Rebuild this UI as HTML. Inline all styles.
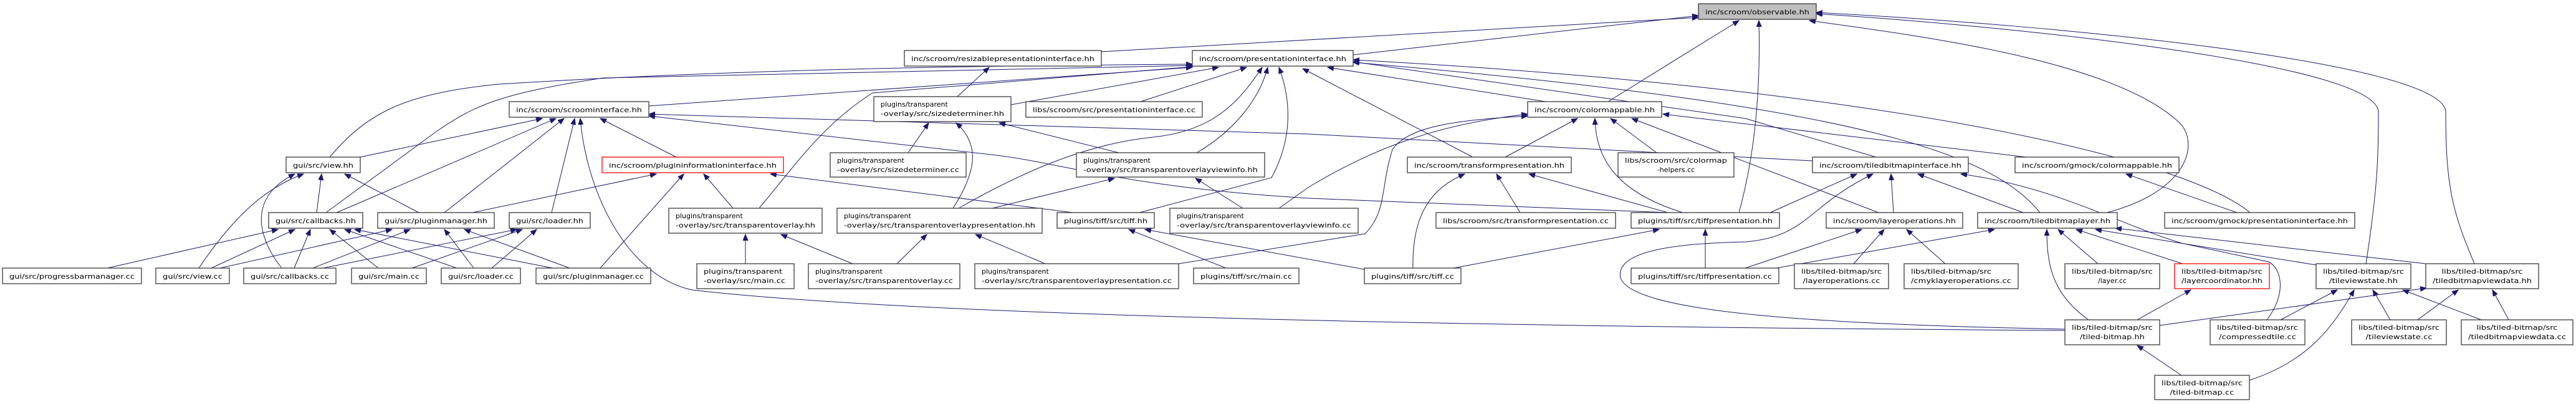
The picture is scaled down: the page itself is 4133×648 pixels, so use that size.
<!DOCTYPE html>
<html><head><meta charset="utf-8"><style>
html,body{margin:0;padding:0;background:#fff;}
svg{display:block;}
rect{fill:#fff;stroke:#3a3a3a;stroke-width:1.3;}
text{font-family:"DejaVu Sans","Liberation Sans",sans-serif;font-size:11px;fill:#000;}
.e{fill:none;stroke:#191970;stroke-width:1;marker-end:url(#a);}
</style></head><body>
<svg width="4133" height="648" viewBox="0 0 4133 648" xmlns="http://www.w3.org/2000/svg">
<defs><marker id="a" markerUnits="userSpaceOnUse" markerWidth="11" markerHeight="9" refX="10" refY="4" orient="auto"><path d="M0,0 L10,4 L0,8 z" fill="#191970" stroke="#191970"/></marker></defs>
<g>
<!-- edges to observable -->
<path class="e" d="M2171,88 L2725,25"/>
<path class="e" d="M1767,83 L2725,28"/>
<path class="e" d="M2580,163 L2790,33"/>
<path class="e" d="M2790,341 C2815,250 2825,150 2822,33"/>
<path class="e" d="M3380,341 C3500,310 3530,240 3500,200 C3400,100 3100,60 2903,33"/>
<path class="e" d="M3796,423 C3815,300 3816,250 3816,180 C3816,100 3200,40 2914,22"/>
<path class="e" d="M3970,423 C3935,340 3924,300 3924,180 C3924,100 3300,40 2914,20"/>
<!-- to presentationinterface -->
<path class="e" d="M3273,341 C3200,250 3000,170 2171,100"/>
<path class="e" d="M1622,168 L1955,108"/>
<path class="e" d="M1830,163 L2000,108"/>
<path class="e" d="M1041,170 L1913,108"/>
<path class="e" d="M529,252 C590,180 650,150 800,135 C1200,110 1600,105 1913,103"/>
<path class="e" d="M523,341 L700,211 C760,170 800,150 968,125 L1913,105"/>
<path class="e" d="M1218,334 C1280,260 1320,200 1400,149 L1913,107"/>
<path class="e" d="M1538,334 C1650,270 1750,230 1850,220 C1950,210 1990,160 2025,108"/>
<path class="e" d="M1920,245 C1980,210 2020,160 2034,108"/>
<path class="e" d="M1828,341 L2040,285 C2070,230 2075,170 2052,108"/>
<path class="e" d="M2480,163 L2130,108"/>
<path class="e" d="M2363,252 L2090,110"/>
<path class="e" d="M3010,252 L2800,190 L2171,99"/>
<path class="e" d="M3610,341 C3500,250 3000,140 2171,96"/>
<!-- to scroominterface -->
<path class="e" d="M578,252 L870,190"/>
<path class="e" d="M540,341 L892,190"/>
<path class="e" d="M713,341 L905,190"/>
<path class="e" d="M885,341 L922,190"/>
<path class="e" d="M3313,530 C2500,525 1500,510 1110,465 C1000,440 940,300 931,190"/>
<path class="e" d="M1085,252 L963,190"/>
<path class="e" d="M2908,258 L2100,215 L1041,183"/>
<path class="e" d="M2676,341 L2100,318 C1800,300 1700,260 1590,248 L1041,186"/>
<!-- to plugininformationinterface -->
<path class="e" d="M758,341 L1053,279"/>
<path class="e" d="M963,430 L1097,279"/>
<path class="e" d="M1176,334 L1129,279"/>
<path class="e" d="M1721,341 L1236,279"/>
<!-- to view.hh -->
<path class="e" d="M508,341 L516,279"/>
<path class="e" d="M319,430 C380,340 430,300 487,279"/>
<path class="e" d="M452,430 C420,390 390,320 473,279"/>
<path class="e" d="M672,341 L553,279"/>
<!-- to callbacks.hh -->
<path class="e" d="M172,430 L446,368"/>
<path class="e" d="M339,430 L473,368"/>
<path class="e" d="M472,430 L498,368"/>
<path class="e" d="M607,430 L529,368"/>
<path class="e" d="M733,430 L553,368"/>
<path class="e" d="M887,430 L569,368"/>
<!-- to pluginmanager.hh -->
<path class="e" d="M353,430 L629,368"/>
<path class="e" d="M502,430 L658,368"/>
<path class="e" d="M760,430 L713,368"/>
<path class="e" d="M914,430 L745,368"/>
<!-- to loader.hh -->
<path class="e" d="M518,430 L829,368"/>
<path class="e" d="M661,430 L838,368"/>
<path class="e" d="M789,430 L861,368"/>
<!-- transparent overlay -->
<path class="e" d="M1196,423 L1196,376"/>
<path class="e" d="M1368,423 L1253,376"/>
<path class="e" d="M1457,245 L1490,197"/>
<path class="e" d="M1529,334 C1570,270 1570,230 1534,197"/>
<path class="e" d="M1795,245 L1603,197"/>
<path class="e" d="M1536,155 L1587,108"/>
<path class="e" d="M1439,423 L1487,376"/>
<path class="e" d="M1677,423 L1565,376"/>
<path class="e" d="M1592,334 L1788,286"/>
<path class="e" d="M1994,334 L1918,286"/>
<!-- tiff -->
<path class="e" d="M1967,430 L1811,368"/>
<path class="e" d="M2189,432 L1837,368"/>
<!-- to colormappable -->
<path class="e" d="M1891,423 L2190,375 C2225,340 2215,300 2234,240 C2260,200 2350,192 2451,186"/>
<path class="e" d="M2052,334 L2100,300 C2200,240 2300,200 2451,183"/>
<path class="e" d="M2415,252 L2531,190"/>
<path class="e" d="M2700,341 C2600,310 2560,260 2559,190"/>
<path class="e" d="M2658,245 L2584,190"/>
<path class="e" d="M3014,341 L2618,190"/>
<path class="e" d="M3251,252 L2668,183"/>
<!-- to transform.hh -->
<path class="e" d="M2267,430 C2265,340 2300,300 2350,279"/>
<path class="e" d="M2439,341 L2401,279"/>
<path class="e" d="M2676,341 L2453,279"/>
<!-- to tiffpresentation.hh -->
<path class="e" d="M2332,430 L2662,368"/>
<path class="e" d="M2736,430 L2736,368"/>
<!-- to tbi -->
<path class="e" d="M2840,341 L2979,279"/>
<path class="e" d="M3313,528 C2900,520 2620,500 2600,446 C2590,400 2700,390 2800,388 C2900,380 2900,330 3005,279"/>
<path class="e" d="M3038,341 L3034,279"/>
<path class="e" d="M3246,341 L3077,279"/>
<path class="e" d="M3637,513 C3670,470 3660,430 3640,420 L3500,390 C3400,360 3300,300 3146,279"/>
<!-- to layerops.hh -->
<path class="e" d="M2800,430 L2987,368"/>
<path class="e" d="M2974,423 L3023,368"/>
<path class="e" d="M3121,423 L3059,368"/>
<!-- to tbl -->
<path class="e" d="M2850,430 L3200,368"/>
<path class="e" d="M3366,423 L3302,368"/>
<path class="e" d="M3351,513 C3290,470 3284,420 3284,368"/>
<path class="e" d="M3502,423 L3331,368"/>
<path class="e" d="M3716,425 L3362,368"/>
<path class="e" d="M3892,423 L3394,366"/>
<!-- misc -->
<path class="e" d="M3589,341 L3411,279"/>
<path class="e" d="M3429,513 L3515,465"/>
<path class="e" d="M3500,602 L3429,554"/>
<path class="e" d="M3659,513 L3750,465"/>
<path class="e" d="M3835,513 L3807,465"/>
<path class="e" d="M3981,513 L3855,465"/>
<path class="e" d="M3609,610 C3700,580 3740,530 3777,465"/>
<path class="e" d="M3465,522 L3893,462"/>
<path class="e" d="M3879,513 L3944,465"/>
<path class="e" d="M4025,513 L3999,465"/>
</g>
<g>
<rect x="2725" y="6" width="189" height="25" style="fill:#bfbfbf"/><text x="2819.5" y="23" text-anchor="middle" textLength="167" lengthAdjust="spacingAndGlyphs">inc/scroom/observable.hh</text>
<rect x="1451" y="81" width="316" height="25"/><text x="1609" y="98" text-anchor="middle" textLength="294" lengthAdjust="spacingAndGlyphs">inc/scroom/resizablepresentationinterface.hh</text>
<rect x="1913" y="81" width="258" height="25"/><text x="2042" y="98" text-anchor="middle" textLength="236" lengthAdjust="spacingAndGlyphs">inc/scroom/presentationinterface.hh</text>
<rect x="817" y="163" width="224" height="25"/><text x="929" y="180" text-anchor="middle" textLength="202" lengthAdjust="spacingAndGlyphs">inc/scroom/scroominterface.hh</text>
<rect x="1402" y="155" width="220" height="40"/><text x="1413" y="171">plugins/transparent</text><text x="1413" y="186" textLength="198" lengthAdjust="spacingAndGlyphs">-overlay/src/sizedeterminer.hh</text>
<rect x="1646" y="163" width="283" height="25"/><text x="1787.5" y="180" text-anchor="middle" textLength="261" lengthAdjust="spacingAndGlyphs">libs/scroom/src/presentationinterface.cc</text>
<rect x="2451" y="163" width="215" height="25"/><text x="2558.5" y="180" text-anchor="middle" textLength="193" lengthAdjust="spacingAndGlyphs">inc/scroom/colormappable.hh</text>
<rect x="459" y="252" width="119" height="25"/><text x="518.5" y="269" text-anchor="middle" textLength="97" lengthAdjust="spacingAndGlyphs">gui/src/view.hh</text>
<rect x="966" y="252" width="291" height="25" style="stroke:#ff0000"/><text x="1111.5" y="269" text-anchor="middle" textLength="269" lengthAdjust="spacingAndGlyphs">inc/scroom/plugininformationinterface.hh</text>
<rect x="1332" y="245" width="218" height="39"/><text x="1343" y="261">plugins/transparent</text><text x="1343" y="276" textLength="196" lengthAdjust="spacingAndGlyphs">-overlay/src/sizedeterminer.cc</text>
<rect x="1727" y="245" width="302" height="39"/><text x="1738" y="261">plugins/transparent</text><text x="1738" y="276" textLength="280" lengthAdjust="spacingAndGlyphs">-overlay/src/transparentoverlayviewinfo.hh</text>
<rect x="2258" y="252" width="263" height="25"/><text x="2389.5" y="269" text-anchor="middle" textLength="241" lengthAdjust="spacingAndGlyphs">inc/scroom/transformpresentation.hh</text>
<rect x="2596" y="245" width="186" height="39"/><text x="2689" y="261" text-anchor="middle" textLength="164" lengthAdjust="spacingAndGlyphs">libs/scroom/src/colormap</text><text x="2689" y="276" text-anchor="middle">-helpers.cc</text>
<rect x="2908" y="252" width="250" height="25"/><text x="3033" y="269" text-anchor="middle" textLength="228" lengthAdjust="spacingAndGlyphs">inc/scroom/tiledbitmapinterface.hh</text>
<rect x="3233" y="252" width="263" height="25"/><text x="3364.5" y="269" text-anchor="middle" textLength="241" lengthAdjust="spacingAndGlyphs">inc/scroom/gmock/colormappable.hh</text>
<rect x="431" y="341" width="151" height="25"/><text x="506.5" y="358" text-anchor="middle" textLength="129" lengthAdjust="spacingAndGlyphs">gui/src/callbacks.hh</text>
<rect x="606" y="341" width="187" height="25"/><text x="699.5" y="358" text-anchor="middle" textLength="165" lengthAdjust="spacingAndGlyphs">gui/src/pluginmanager.hh</text>
<rect x="817" y="341" width="130" height="25"/><text x="882" y="358" text-anchor="middle" textLength="108" lengthAdjust="spacingAndGlyphs">gui/src/loader.hh</text>
<rect x="1073" y="334" width="246" height="40"/><text x="1084" y="350">plugins/transparent</text><text x="1084" y="365" textLength="224" lengthAdjust="spacingAndGlyphs">-overlay/src/transparentoverlay.hh</text>
<rect x="1343" y="334" width="329" height="40"/><text x="1354" y="350">plugins/transparent</text><text x="1354" y="365" textLength="307" lengthAdjust="spacingAndGlyphs">-overlay/src/transparentoverlaypresentation.hh</text>
<rect x="1696" y="341" width="156" height="25"/><text x="1774" y="358" text-anchor="middle" textLength="134" lengthAdjust="spacingAndGlyphs">plugins/tiff/src/tiff.hh</text>
<rect x="1877" y="334" width="302" height="40"/><text x="1888" y="350">plugins/transparent</text><text x="1888" y="365" textLength="280" lengthAdjust="spacingAndGlyphs">-overlay/src/transparentoverlayviewinfo.cc</text>
<rect x="2304" y="341" width="288" height="25"/><text x="2448" y="358" text-anchor="middle" textLength="266" lengthAdjust="spacingAndGlyphs">libs/scroom/src/transformpresentation.cc</text>
<rect x="2617" y="341" width="238" height="25"/><text x="2736" y="358" text-anchor="middle" textLength="216" lengthAdjust="spacingAndGlyphs">plugins/tiff/src/tiffpresentation.hh</text>
<rect x="2930" y="341" width="219" height="25"/><text x="3039.5" y="358" text-anchor="middle" textLength="197" lengthAdjust="spacingAndGlyphs">inc/scroom/layeroperations.hh</text>
<rect x="3173" y="341" width="224" height="25"/><text x="3285" y="358" text-anchor="middle" textLength="202" lengthAdjust="spacingAndGlyphs">inc/scroom/tiledbitmaplayer.hh</text>
<rect x="3473" y="341" width="305" height="25"/><text x="3625.5" y="358" text-anchor="middle" textLength="283" lengthAdjust="spacingAndGlyphs">inc/scroom/gmock/presentationinterface.hh</text>
<rect x="4" y="430" width="223" height="25"/><text x="115.5" y="447" text-anchor="middle" textLength="201" lengthAdjust="spacingAndGlyphs">gui/src/progressbarmanager.cc</text>
<rect x="250" y="430" width="118" height="25"/><text x="309" y="447" text-anchor="middle" textLength="96" lengthAdjust="spacingAndGlyphs">gui/src/view.cc</text>
<rect x="391" y="430" width="148" height="25"/><text x="465" y="447" text-anchor="middle" textLength="126" lengthAdjust="spacingAndGlyphs">gui/src/callbacks.cc</text>
<rect x="564" y="430" width="120" height="25"/><text x="624" y="447" text-anchor="middle" textLength="98" lengthAdjust="spacingAndGlyphs">gui/src/main.cc</text>
<rect x="708" y="430" width="127" height="25"/><text x="771.5" y="447" text-anchor="middle" textLength="105" lengthAdjust="spacingAndGlyphs">gui/src/loader.cc</text>
<rect x="860" y="430" width="184" height="25"/><text x="952" y="447" text-anchor="middle" textLength="162" lengthAdjust="spacingAndGlyphs">gui/src/pluginmanager.cc</text>
<rect x="1118" y="423" width="156" height="40"/><text x="1129" y="439" textLength="126" lengthAdjust="spacingAndGlyphs">plugins/transparent</text><text x="1129" y="454" textLength="131" lengthAdjust="spacingAndGlyphs">-overlay/src/main.cc</text>
<rect x="1297" y="423" width="243" height="40"/><text x="1308" y="439">plugins/transparent</text><text x="1308" y="454" textLength="221" lengthAdjust="spacingAndGlyphs">-overlay/src/transparentoverlay.cc</text>
<rect x="1564" y="423" width="327" height="40"/><text x="1575" y="439">plugins/transparent</text><text x="1575" y="454" textLength="305" lengthAdjust="spacingAndGlyphs">-overlay/src/transparentoverlaypresentation.cc</text>
<rect x="1915" y="430" width="169" height="25"/><text x="1999.5" y="447" text-anchor="middle" textLength="147" lengthAdjust="spacingAndGlyphs">plugins/tiff/src/main.cc</text>
<rect x="2189" y="430" width="155" height="25"/><text x="2266.5" y="447" text-anchor="middle" textLength="133" lengthAdjust="spacingAndGlyphs">plugins/tiff/src/tiff.cc</text>
<rect x="2617" y="430" width="237" height="25"/><text x="2735.5" y="447" text-anchor="middle" textLength="215" lengthAdjust="spacingAndGlyphs">plugins/tiff/src/tiffpresentation.cc</text>
<rect x="2879" y="423" width="151" height="40"/><text x="2954.5" y="439" text-anchor="middle" textLength="129" lengthAdjust="spacingAndGlyphs">libs/tiled-bitmap/src</text><text x="2954.5" y="454" text-anchor="middle" textLength="124" lengthAdjust="spacingAndGlyphs">/layeroperations.cc</text>
<rect x="3055" y="423" width="183" height="40"/><text x="3066" y="439" textLength="129" lengthAdjust="spacingAndGlyphs">libs/tiled-bitmap/src</text><text x="3066" y="454" textLength="161" lengthAdjust="spacingAndGlyphs">/cmyklayeroperations.cc</text>
<rect x="3313" y="423" width="152" height="40"/><text x="3389" y="439" text-anchor="middle" textLength="130" lengthAdjust="spacingAndGlyphs">libs/tiled-bitmap/src</text><text x="3389" y="454" text-anchor="middle">/layer.cc</text>
<rect x="3489" y="423" width="152" height="40" style="stroke:#ff0000"/><text x="3565" y="439" text-anchor="middle" textLength="130" lengthAdjust="spacingAndGlyphs">libs/tiled-bitmap/src</text><text x="3565" y="454" text-anchor="middle" textLength="130" lengthAdjust="spacingAndGlyphs">/layercoordinator.hh</text>
<rect x="3716" y="423" width="152" height="40"/><text x="3792" y="439" text-anchor="middle" textLength="130" lengthAdjust="spacingAndGlyphs">libs/tiled-bitmap/src</text><text x="3792" y="454" text-anchor="middle" textLength="110" lengthAdjust="spacingAndGlyphs">/tileviewstate.hh</text>
<rect x="3892" y="423" width="181" height="40"/><text x="3982.5" y="439" text-anchor="middle" textLength="130" lengthAdjust="spacingAndGlyphs">libs/tiled-bitmap/src</text><text x="3982.5" y="454" text-anchor="middle" textLength="159" lengthAdjust="spacingAndGlyphs">/tiledbitmapviewdata.hh</text>
<rect x="3313" y="513" width="152" height="40"/><text x="3389" y="529" text-anchor="middle" textLength="130" lengthAdjust="spacingAndGlyphs">libs/tiled-bitmap/src</text><text x="3389" y="544" text-anchor="middle" textLength="104" lengthAdjust="spacingAndGlyphs">/tiled-bitmap.hh</text>
<rect x="3546" y="513" width="152" height="40"/><text x="3622" y="529" text-anchor="middle" textLength="130" lengthAdjust="spacingAndGlyphs">libs/tiled-bitmap/src</text><text x="3622" y="544" text-anchor="middle" textLength="124" lengthAdjust="spacingAndGlyphs">/compressedtile.cc</text>
<rect x="3773" y="513" width="152" height="40"/><text x="3849" y="529" text-anchor="middle" textLength="130" lengthAdjust="spacingAndGlyphs">libs/tiled-bitmap/src</text><text x="3849" y="544" text-anchor="middle" textLength="107" lengthAdjust="spacingAndGlyphs">/tileviewstate.cc</text>
<rect x="3949" y="513" width="179" height="40"/><text x="4038.5" y="529" text-anchor="middle" textLength="130" lengthAdjust="spacingAndGlyphs">libs/tiled-bitmap/src</text><text x="4038.5" y="544" text-anchor="middle" textLength="157" lengthAdjust="spacingAndGlyphs">/tiledbitmapviewdata.cc</text>
<rect x="3457" y="602" width="152" height="39"/><text x="3533" y="618" text-anchor="middle" textLength="130" lengthAdjust="spacingAndGlyphs">libs/tiled-bitmap/src</text><text x="3533" y="633" text-anchor="middle" textLength="103" lengthAdjust="spacingAndGlyphs">/tiled-bitmap.cc</text>
</g>
</svg>
</body></html>
